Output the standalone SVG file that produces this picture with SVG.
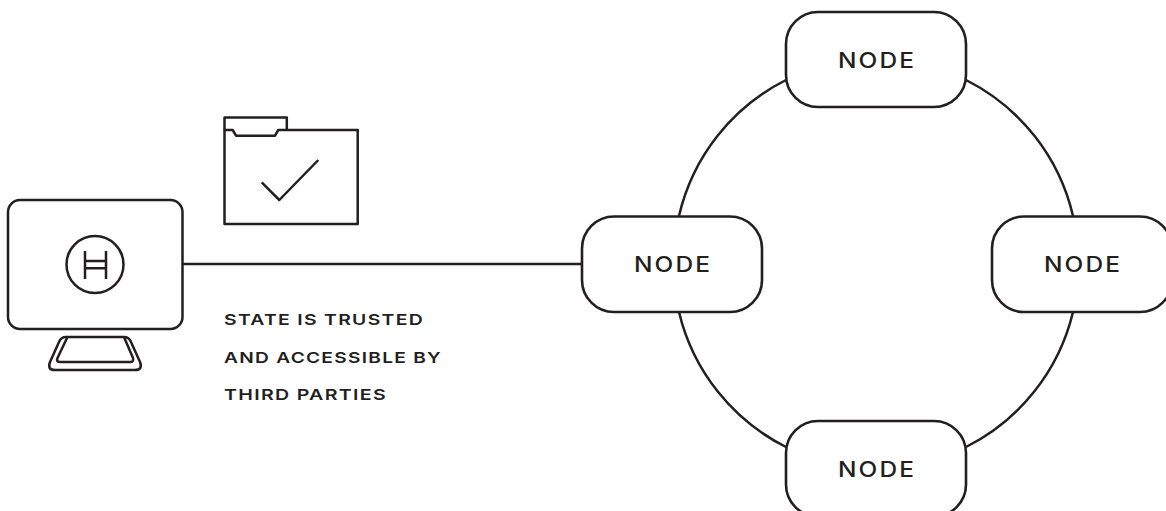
<svg xmlns="http://www.w3.org/2000/svg" width="1166" height="511" viewBox="0 0 1166 511">
<style>
.s{fill:none;stroke:#231f20;stroke-width:2.5;stroke-linejoin:round}
.n{fill:#fff;stroke:#231f20;stroke-width:2.6}
.c{fill:none;stroke:#231f20;stroke-width:2.5}
.t{font-family:"Inter","Liberation Sans",sans-serif;fill:#231f20;font-weight:600}
.nl{font-size:21px;font-weight:500;letter-spacing:1.800px}
.cap{font-size:15px;letter-spacing:1px}
</style>
<rect width="1166" height="511" fill="#fff"/>
<g id="connectors">
<path class="c" d="M183 264H582"/>
<path class="c" d="M786 80A204 204 0 0 0 679 216"/>
<path class="c" d="M966 80A204 204 0 0 1 1073 216"/>
<path class="c" d="M679 312A204 204 0 0 0 786 447"/>
<path class="c" d="M1073 312A204 204 0 0 1 966 447"/>
</g>
<g id="node-top"><rect class="n" x="786" y="12" width="180" height="95" rx="32"/><text class="t nl" x="838" y="68" textLength="78" lengthAdjust="spacingAndGlyphs">NODE</text></g>
<g id="node-left"><rect class="n" x="582" y="216.500" width="180" height="95.500" rx="32"/><text class="t nl" x="634" y="272" textLength="78" lengthAdjust="spacingAndGlyphs">NODE</text></g>
<g id="node-right"><rect class="n" x="992" y="216.500" width="180" height="95.500" rx="32"/><text class="t nl" x="1044" y="272" textLength="78" lengthAdjust="spacingAndGlyphs">NODE</text></g>
<g id="node-bottom"><rect class="n" x="786" y="421" width="180" height="95.500" rx="32"/><text class="t nl" x="838" y="477" textLength="78" lengthAdjust="spacingAndGlyphs">NODE</text></g>
<g id="computer">
<rect class="s" x="8" y="200" width="174.500" height="129" rx="12"/>
<circle class="s" cx="95" cy="264.500" r="28.500"/>
<path class="s" d="M85 251V279M106 251V279M85 261H106M85 268.300H106"/>
<path class="s" d="M59 342Q61 337 66 337H124Q129 337 131 342L140 362Q143 370 135 370H55Q47 370 50 362Z"/>
<path class="s" d="M67.500 337L57.500 358Q56 362 60 362H130Q134 362 133 358L124 337"/>
</g>
<g id="folder">
<path class="s" d="M224.500 130V117.500H286.800V130"/>
<path class="s" d="M224.500 130H232.700L236 135.700H275L278.300 130H357.700V224H224.500Z"/>
<path class="s" d="M261.700 182.300L279.300 200L318.300 160"/>
</g>
<g id="caption">
<text class="t cap" x="224" y="325" textLength="200" lengthAdjust="spacingAndGlyphs">STATE IS TRUSTED</text>
<text class="t cap" x="224" y="363" textLength="218" lengthAdjust="spacingAndGlyphs">AND ACCESSIBLE BY</text>
<text class="t cap" x="224" y="400" textLength="163" lengthAdjust="spacingAndGlyphs">THIRD PARTIES</text>
</g>
</svg>
